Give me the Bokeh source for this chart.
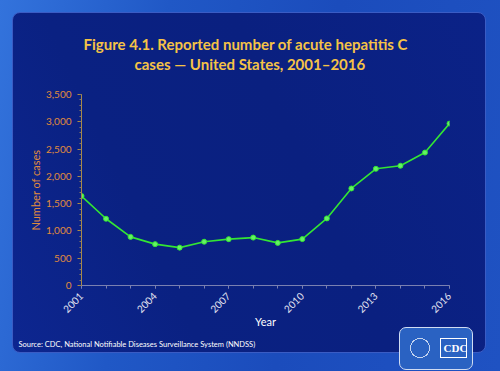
import math
from bokeh.plotting import figure
from bokeh.models import Range1d, FixedTicker, NumeralTickFormatter, Title
from bokeh.embed import file_html
from bokeh.resources import INLINE

# ---- data ----
years = list(range(2001, 2017))
cases = [1640, 1223, 891, 758, 694, 802, 849, 878, 781, 850, 1229, 1778, 2138, 2194, 2436, 2967]
y_ticks = [0, 500, 1000, 1500, 2000, 2500, 3000, 3500]
y_minor = list(range(0, 3501, 100))
x_label_years = [2001, 2004, 2007, 2010, 2013, 2016]
title_lines = ["Figure 4.1. Reported number of acute hepatitis C",
               "cases \u2014 United States, 2001\u20132016"]
y_title = "Number of cases"
x_title = "Year"
source_text = "Source: CDC, National Notifiable Diseases Surveillance System (NNDSS)"

FONT = "Lato"
W, H = 500, 371
FL, FR, FT, FB = 81, 449, 94, 285  # frame edges in px

css = """
:host::before {
  content: "";
  position: absolute;
  left: 12px; top: 12px; width: 472px; height: 339px;
  border-radius: 8px;
  border: 1px solid #3a5cc4;
  background: linear-gradient(65deg, #0d2690 0%, #0a2182 30%, #0a2080 60%, #0b2287 100%);
}
:host::after {
  content: "CDC";
  position: absolute;
  box-sizing: border-box;
  left: 399px; top: 327px; width: 74px; height: 43px;
  padding-left: 42px; padding-right: 3px;
  text-align: center;
  font: bold 11px/40px "Liberation Serif", serif;
  color: #ffffff;
  border-radius: 7px;
  border: 1.5px solid #d0dcf2;
  background:
    linear-gradient(#ffffff, #ffffff) 40px 10px / 27px 1px no-repeat,
    linear-gradient(#ffffff, #ffffff) 40px 29px / 27px 1px no-repeat,
    linear-gradient(#ffffff, #ffffff) 40px 10px / 1px 20px no-repeat,
    linear-gradient(#ffffff, #ffffff) 66px 10px / 1px 20px no-repeat,
    radial-gradient(circle at 20px 20px, transparent 0 9px, #c4d4ef 9px 10px, transparent 10px),
    #2a62c2;
}
"""

p = figure(width=W, height=H, output_backend="svg", toolbar_location=None,
           x_range=Range1d(2001, 2016), y_range=Range1d(0, 3500),
           min_border_left=FL, min_border_right=W - FR,
           min_border_top=FT, min_border_bottom=H - FB,
           styles={"background": "linear-gradient(100deg, #3373dc 0%, #2058c6 30%, #1b4cbc 60%, #1f52c2 100%)"},
           stylesheets=[css])
p.border_fill_alpha = 0
p.background_fill_alpha = 0
p.outline_line_color = None
p.xgrid.grid_line_color = None
p.ygrid.grid_line_color = None

# line
p.line(years, cases, line_color="#33e633", line_width=1.6)
p.scatter(years, cases, size=5, fill_color="#66f066", line_color="#33e633")

# axes
ya = p.yaxis[0]
ya.ticker = FixedTicker(ticks=y_ticks, minor_ticks=y_minor)
ya.formatter = NumeralTickFormatter(format="0,0")
ya.axis_line_color = "#a88a48"
ya.major_tick_line_color = "#b08c44"
ya.minor_tick_line_color = "#8a7a60"
ya.major_tick_in = 0
ya.major_tick_out = 4
ya.minor_tick_in = 0
ya.minor_tick_out = 2
ya.major_label_text_color = "#e08c3c"
ya.major_label_text_font = FONT
ya.major_label_text_font_size = "10px"
ya.major_label_standoff = 6
ya.axis_label = y_title
ya.axis_label_text_color = "#e08c3c"
ya.axis_label_text_font = FONT
ya.axis_label_text_font_style = "normal"
ya.axis_label_text_font_size = "11px"
ya.axis_label_standoff = 1

xa = p.xaxis[0]
xa.ticker = FixedTicker(ticks=x_label_years, minor_ticks=years)
xa.axis_line_color = "#7a80b0"
xa.major_tick_line_color = "#7a80b0"
xa.minor_tick_line_color = "#7a80b0"
xa.major_tick_in = 0
xa.major_tick_out = 3
xa.minor_tick_in = 0
xa.minor_tick_out = 3
xa.major_label_orientation = math.pi / 4
xa.major_label_text_color = "#e6e6f2"
xa.major_label_text_font = FONT
xa.major_label_text_font_size = "10px"
xa.major_label_standoff = 6
xa.axis_label = x_title
xa.axis_label_text_color = "#ffffff"
xa.axis_label_text_font = FONT
xa.axis_label_text_font_style = "normal"
xa.axis_label_text_font_size = "11px"
xa.axis_label_standoff = -4

# title: spacer nearest the frame, then line 2, then line 1
p.add_layout(Title(text=" ", standoff=9, text_font_size="10px"), "above")
p.add_layout(Title(text=title_lines[1], align="left", offset=53, standoff=0,
                   text_color="#f5c346", text_font=FONT, text_font_style="bold",
                   text_font_size="15px"), "above")
p.add_layout(Title(text=title_lines[0], align="left", offset=2, standoff=0,
                   text_color="#f5c346", text_font=FONT, text_font_style="bold",
                   text_font_size="15px"), "above")

# source
p.add_layout(Title(text=source_text, align="left", offset=-63, standoff=14,
                   text_color="#ffffff", text_font=FONT, text_font_style="normal",
                   text_font_size="7.5px"), "below")

open("out.html", "w").write(file_html(p, INLINE))
